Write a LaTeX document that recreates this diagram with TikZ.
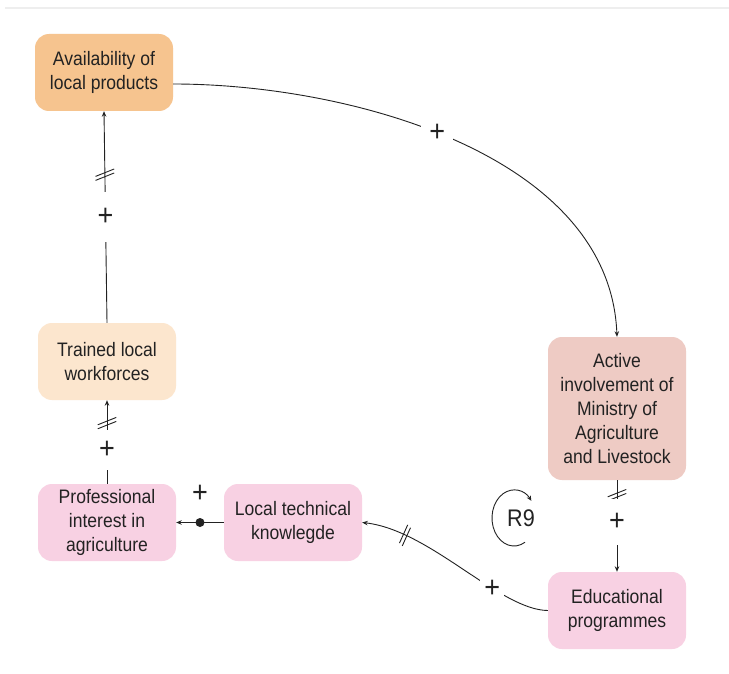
\documentclass[tikz,border=0pt]{standalone}
\usepackage{fontspec}
\setmainfont{Liberation Sans}[FakeStretch=0.9]
\usetikzlibrary{arrows.meta,calc}

\definecolor{ink}{HTML}{222222}
\definecolor{rule}{HTML}{EEEEEE}
\definecolor{cOrange}{HTML}{F6C48F}
\definecolor{cPeach}{HTML}{FCE6CE}
\definecolor{cPink}{HTML}{F8D1E3}
\definecolor{cRose}{HTML}{EECBC4}

\newcommand{\boxfont}{\fontsize{19.5}{24}\selectfont}
\newcommand{\signfont}{\fontsize{30}{30}\selectfont}
\newcommand{\loopfont}{\fontsize{24}{24}\selectfont}

\tikzset{
  var/.style={rounded corners=14pt, minimum width=138pt, minimum height=77pt,
    inner sep=0pt, align=center, text=ink, font=\boxfont,
    execute at begin node={\rule{0pt}{19.5pt}}},
  link/.style={draw=ink, line width=0.9pt, -{Stealth[length=5.5pt,width=4.5pt]}},
  sign/.style={fill=white, text=ink, font=\signfont, inner sep=0pt,
    minimum width=30pt, minimum height=44pt},
  signbare/.style={text=ink, font=\signfont, inner sep=0pt},
  pics/delay/.style={code={
    \draw[-, draw=ink, line width=0.9pt, rotate=#1]
      (-9.3pt,-1.7pt) -- (9.3pt,5.7pt)
      (-9.3pt,-5.7pt) -- (9.3pt,1.7pt);
  }},
}

\begin{document}
\begin{tikzpicture}[x=1pt,y=-1pt]
\useasboundingbox (0,0) rectangle (729,674);
\fill[white] (0,0) rectangle (729,674);
\draw[rule, line width=2pt] (5,8) -- (729,8);

% variables
\node[var, fill=cOrange] (avail)  at (104,72.5)  {Availability of\\local products};
\node[var, fill=cPeach]  (train)  at (107,361.5) {Trained local\\workforces};
\node[var, fill=cPink]   (prof)   at (107,522.5) {Professional\\interest in\\agriculture};
\node[var, fill=cPink]   (tech)   at (293,522.5) {Local technical\\knowlegde};
\node[var, fill=cRose, minimum height=143pt] (minis) at (617,408.5)
  {Active\\involvement of\\Ministry of\\Agriculture\\and Livestock};
\node[var, fill=cPink]   (edu)    at (617,610.5) {Educational\\programmes};

% causal links
\draw[link] ($(avail.east)+(0,11.5)$) .. controls (350,84) and (610,155) .. (minis.north)
  node[sign, pos=0.46, minimum width=32pt] {+};
\draw[link] (train.north) -- (avail.south)
  pic[pos=0.70] {delay=0}
  node[sign, pos=0.5, minimum height=50pt] {+};
\draw[link] (prof.north) -- (train.south)
  pic[pos=0.726] {delay=0}
  node[sign, pos=0.405, minimum height=40pt] {+};
\draw[link] (tech.west) -- (prof.east)
  node[circle, fill=ink, minimum size=9pt, inner sep=0pt, pos=0.5] (dot) {}
  node[signbare, pos=0.5, yshift=29pt] {+};
\draw[link] (edu.west) .. controls (500,610) and (430,530) .. (tech.east)
  pic[pos=0.79] {delay=44}
  node[sign, pos=0.34, minimum width=24pt, minimum height=24pt] {+};
\draw[link] (minis.south) -- (edu.north)
  pic[pos=0.163] {delay=0}
  node[sign, pos=0.457, minimum height=46pt] {+};

% loop marker
\node[text=ink, font=\loopfont, inner sep=0pt] (loop) at (521,518) {R9};
\coordinate (loopc) at (514,518);
\draw[ink, line width=0.9pt, -{Stealth[length=5pt,width=4.5pt]}]
  ($(loopc)+(60:22 and 28)$) arc[start angle=60, end angle=322, x radius=22, y radius=28];
\end{tikzpicture}
\end{document}
